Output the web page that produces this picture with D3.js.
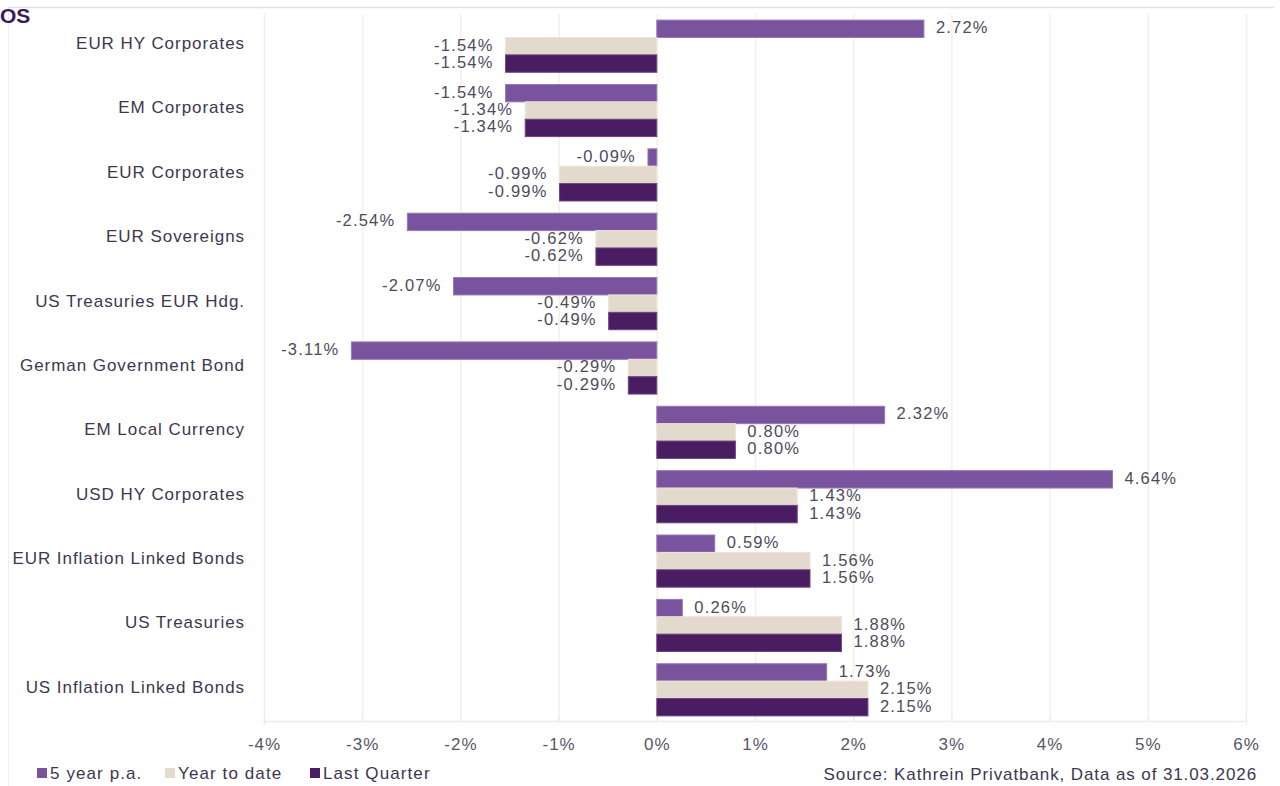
<!DOCTYPE html>
<html>
<head>
<meta charset="utf-8">
<script src="https://cdn.jsdelivr.net/npm/d3@7"></script>
<style>
  html, body { margin: 0; padding: 0; background: #fff; }
  svg { display: block; font-family: "Liberation Sans", Arial, sans-serif; }
</style>
</head>
<body>
<svg id="chart" width="1280" height="786"></svg>
<script>
const categories = [
  "EUR HY Corporates", "EM Corporates", "EUR Corporates", "EUR Sovereigns",
  "US Treasuries EUR Hdg.", "German Government Bond", "EM Local Currency",
  "USD HY Corporates", "EUR Inflation Linked Bonds", "US Treasuries",
  "US Inflation Linked Bonds"
];
const seriesNames = ["5 year p.a.", "Year to date", "Last Quarter"];
const fiveYear    = [2.72, -1.54, -0.09, -2.54, -2.07, -3.11, 2.32, 4.64, 0.59, 0.26, 1.73];
const yearToDate  = [-1.54, -1.34, -0.99, -0.62, -0.49, -0.29, 0.80, 1.43, 1.56, 1.88, 2.15];
const lastQuarter = [-1.54, -1.34, -0.99, -0.62, -0.49, -0.29, 0.80, 1.43, 1.56, 1.88, 2.15];
const xTicks = [-4, -3, -2, -1, 0, 1, 2, 3, 4, 5, 6];
const sourceText = "Source: Kathrein Privatbank, Data as of 31.03.2026";
const titleFragment = "OS";

const colors = ["#7a539f", "#e3dacd", "#4a1d62"];
const strokes = ["#9478b4", "#ece4da", "#6a4580"];
const textColor = "#3e3650";

const svg = d3.select("#chart");

// frame
svg.append("line").attr("x1", 8).attr("x2", 1274).attr("y1", 7.5).attr("y2", 7.5)
  .attr("stroke", "#e2e2e2").attr("stroke-width", 1.5);
svg.append("line").attr("x1", 8.5).attr("x2", 8.5).attr("y1", 7).attr("y2", 786)
  .attr("stroke", "#eeeeee").attr("stroke-width", 1);

// title fragment
svg.append("text").attr("x", 0).attr("y", 23)
  .attr("font-size", 21).attr("font-weight", "bold").attr("fill", "#3b1a5a")
  .text(titleFragment);

const x = d3.scaleLinear().domain([-4, 6]).range([264, 1246]);
const y = d3.scaleBand().domain(categories).range([14, 722])
  .paddingInner(0.19).paddingOuter(0.095);
const sub = d3.scaleBand().domain([0, 1, 2]).range([0, y.bandwidth()]);

// gridlines
svg.append("g").selectAll("line").data(xTicks).join("line")
  .attr("x1", d => x(d) + 0.5).attr("x2", d => x(d) + 0.5)
  .attr("y1", 14).attr("y2", 722)
  .attr("stroke", "#f3f0e8").attr("stroke-width", 1.5);

// axis
const axis = d3.axisBottom(x).tickValues(xTicks).tickFormat(d => d + "%").tickSize(4).tickPadding(13);
const ag = svg.append("g").attr("transform", "translate(0,721)").call(axis);
ag.select(".domain").attr("stroke", "#f0ece2").attr("stroke-width", 1.5);
ag.selectAll(".tick line").attr("stroke", "#ece8de").attr("transform", "translate(0,-4)");
ag.selectAll(".tick text").attr("fill", "#5a5566").attr("font-size", 17)
  .attr("letter-spacing", 1)
  .attr("font-family", "'Liberation Sans', Arial, sans-serif");

// bars
const series = [fiveYear, yearToDate, lastQuarter];
const rows = [];
categories.forEach((c, i) => {
  series.forEach((s, k) => rows.push({ cat: c, k, v: s[i] }));
});

svg.append("g").selectAll("rect").data(rows).join("rect")
  .attr("x", d => x(Math.min(0, d.v)))
  .attr("width", d => Math.abs(x(d.v) - x(0)))
  .attr("y", d => y(d.cat) + sub(d.k))
  .attr("height", sub.bandwidth())
  .attr("fill", d => colors[d.k])
  .attr("stroke", d => strokes[d.k]).attr("stroke-width", 1);

// value labels
svg.append("g").selectAll("text").data(rows).join("text")
  .attr("x", d => d.v >= 0 ? x(d.v) + 12 : x(d.v) - 12)
  .attr("y", d => y(d.cat) + sub(d.k) + sub.bandwidth() / 2 - 1)
  .attr("dy", "0.33em")
  .attr("text-anchor", d => d.v >= 0 ? "start" : "end")
  .attr("font-size", 16.5).attr("letter-spacing", 1.2)
  .attr("fill", "#4f4a5c")
  .text(d => d.v.toFixed(2) + "%");

// category labels
svg.append("g").selectAll("text").data(categories).join("text")
  .attr("x", 245)
  .attr("y", d => y(d) + y.bandwidth() / 2 - 3)
  .attr("dy", "0.35em")
  .attr("text-anchor", "end")
  .attr("font-size", 17).attr("letter-spacing", 0.95)
  .attr("fill", textColor)
  .text(d => d);

// legend
const legX = [37, 165, 310];
const lg = svg.append("g");
seriesNames.forEach((n, k) => {
  lg.append("rect").attr("x", legX[k]).attr("y", 768).attr("width", 10).attr("height", 10)
    .attr("fill", colors[k]);
  lg.append("text").attr("x", legX[k] + 13).attr("y", 779)
    .attr("font-size", 17).attr("letter-spacing", 1.1).attr("fill", textColor).text(n);
});

// source
svg.append("text").attr("x", 1257).attr("y", 780).attr("text-anchor", "end")
  .attr("font-size", 17).attr("letter-spacing", 0.9).attr("fill", textColor)
  .text(sourceText);
</script>
</body>
</html>
